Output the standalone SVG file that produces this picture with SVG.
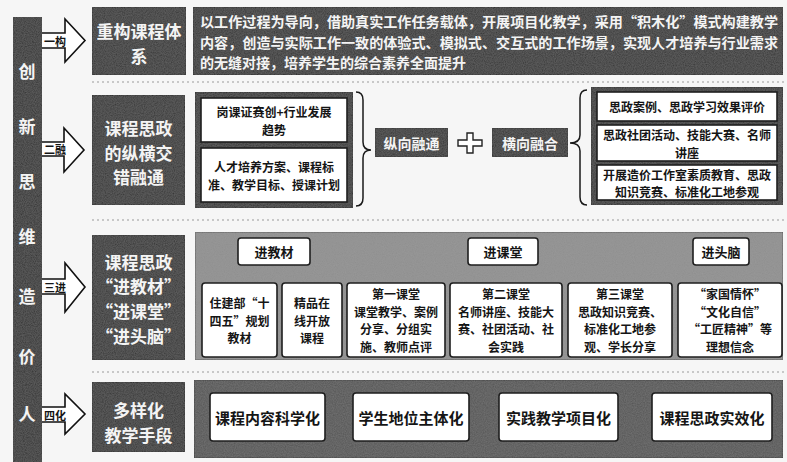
<svg xmlns="http://www.w3.org/2000/svg" width="787" height="462" viewBox="0 0 787 462">
<defs>
<style>
text{font-family:"Noto Sans CJK SC","Noto Sans CJK TC",sans-serif;font-weight:700;dominant-baseline:central;text-anchor:middle}
text.ls{text-anchor:start}
.dark{fill:#363636;stroke:#1a1a1a;stroke-width:1}
.wbox{fill:#ffffff;stroke:#1e1e1e;stroke-width:1.6}
.wt{fill:#f4f4f4}
.bt{fill:#151515}
.arrow{fill:#ffffff;stroke:#111;stroke-width:1.6;stroke-linejoin:miter}
.sep{stroke:#9a9a9a;stroke-width:1;stroke-dasharray:2 3}
.brace{fill:none;stroke:#1a1a1a;stroke-width:1.5}
.cline{fill:none;stroke:#222;stroke-width:3}
.cin{fill:none;stroke:#e8e8e8;stroke-width:1}
</style>
<filter id="grain" x="0" y="0" width="100%" height="100%">
<feTurbulence type="fractalNoise" baseFrequency="0.9" numOctaves="2" seed="3" result="n"/>
<feColorMatrix in="n" type="matrix" values="0 0 0 0 0.55  0 0 0 0 0.55  0 0 0 0 0.55  0 0 0 0.18 0" result="g"/>
<feComposite in="g" in2="SourceGraphic" operator="in" result="gi"/>
<feMerge><feMergeNode in="SourceGraphic"/><feMergeNode in="gi"/></feMerge>
</filter>
</defs>
<rect x="0" y="0" width="787" height="462" fill="#f6f6f6"/>

<!-- separators -->
<g id="separators">
<line class="sep" x1="92" y1="82" x2="787" y2="82"/>
<line class="sep" x1="92" y1="220" x2="787" y2="220"/>
<line class="sep" x1="92" y1="372" x2="787" y2="372"/>
</g>

<!-- left bar -->
<g id="bar">
<rect x="13" y="17" width="29" height="450" fill="#333333" filter="url(#grain)"/>
<g class="wt" font-size="17">
<text x="27" y="70">创</text>
<text x="27" y="125">新</text>
<text x="27" y="180">思</text>
<text x="27" y="235">维</text>
<text x="27" y="295">造</text>
<text x="27" y="355">价</text>
<text x="27" y="413">人</text>
</g>
</g>

<!-- connectors -->
<g id="connectors">
<g id="arrow1">
<path class="arrow" d="M42,33 H65 V19 L85,40.5 L65,62 V48 H42"/>
<text class="bt" x="55" y="40.5" font-size="11" font-weight="400">一构</text>
</g>
<g id="arrow2">
<path class="arrow" d="M42,142 H64 V128 L84,150 L64,172 V156 H42"/>
<text class="bt" x="55" y="149" font-size="11" font-weight="400">二融</text>
</g>
<g id="arrow3">
<path class="arrow" d="M42,279 H65 V263 L85,287 L65,312 V294 H42"/>
<text class="bt" x="55" y="286.5" font-size="11" font-weight="400">三进</text>
</g>
<g id="arrow4">
<path class="arrow" d="M42,407 H65 V394 L85,414 L65,434 V422 H42"/>
<text class="bt" x="55" y="414.5" font-size="11" font-weight="400">四化</text>
</g>
<g id="tree">
<path class="cline" d="M274,265 V275 M240,283 V275 H312 V283"/>
<path class="cin" d="M274,265 V275 M240,283 V275 H312 V283"/>
<path class="cline" d="M506,265 V283 M396,283 V275 H620 V283"/>
<path class="cin" d="M506,265 V283 M396,283 V275 H620 V283"/>
<path class="cline" d="M727,265 V283"/>
<path class="cin" d="M727,265 V283"/>
</g>
<path class="brace" d="M356,92 Q363,92 363,100 V142 Q363,150 371,150 Q363,150 363,158 V198 Q363,206 356,206"/>
<path class="brace" d="M587,90 Q580,90 580,98 V135 Q580,143 570,143 Q580,143 580,151 V197 Q580,205 587,205"/>
<path d="M467,133 H473 V140 H482 V146 H473 V153 H467 V146 H458 V140 H467 Z" fill="#fff" stroke="#222" stroke-width="1.4"/>
</g>

<!-- row 1 -->
<g id="row1-title">
<rect class="dark" x="92" y="7" width="94" height="68" filter="url(#grain)"/>
<g class="wt" font-size="17"><text x="139" y="30.5">重构课程体</text><text x="139" y="55.5">系</text></g>
</g>
<g id="row1-desc">
<rect class="dark" x="193" y="7" width="590" height="68" filter="url(#grain)"/>
<g class="wt" font-size="14">
<text class="ls" x="200" y="20.5" textLength="578" lengthAdjust="spacingAndGlyphs">以工作过程为导向，借助真实工作任务载体，开展项目化教学，采用“积木化”模式构建教学</text>
<text class="ls" x="200" y="41.5" textLength="578" lengthAdjust="spacingAndGlyphs">内容，创造与实际工作一致的体验式、模拟式、交互式的工作场景，实现人才培养与行业需求</text>
<text class="ls" x="200" y="62">的无缝对接，培养学生的综合素养全面提升</text>
</g>
</g>

<!-- row 2 -->
<g id="row2-title">
<rect class="dark" x="92" y="95" width="93" height="110" filter="url(#grain)"/>
<g class="wt" font-size="17"><text x="138.5" y="127.5">课程思政</text><text x="138.5" y="152">的纵横交</text><text x="138.5" y="176.5">错融通</text></g>
</g>
<g id="row2-left">
<rect x="195" y="92" width="158" height="116" fill="#363636" stroke="#1a1a1a" filter="url(#grain)"/>
<rect class="wbox" x="201" y="98" width="146" height="44"/>
<rect class="wbox" x="201" y="148" width="146" height="54"/>
<g class="bt" font-size="12">
<text x="274" y="111.5">岗课证赛创+行业发展</text><text x="274" y="129">趋势</text>
<text x="274" y="166">人才培养方案、课程标</text><text x="274" y="184">准、教学目标、授课计划</text>
</g>
</g>
<g id="row2-vertical">
<rect class="dark" x="375" y="128" width="73" height="29" filter="url(#grain)"/>
<text class="wt" x="411.5" y="142.5" font-size="14">纵向融通</text>
</g>
<g id="row2-horizontal">
<rect class="dark" x="492" y="128" width="76" height="29" filter="url(#grain)"/>
<text class="wt" x="530" y="142.5" font-size="14">横向融合</text>
</g>
<g id="row2-right">
<rect x="591" y="87" width="192" height="118" fill="#363636" stroke="#1a1a1a" filter="url(#grain)"/>
<rect class="wbox" x="597" y="92" width="180" height="29"/>
<rect class="wbox" x="597" y="125" width="180" height="36"/>
<rect class="wbox" x="597" y="165" width="180" height="35"/>
<g class="bt" font-size="12">
<text x="687" y="106.5">思政案例、思政学习效果评价</text>
<text x="687" y="134.5">思政社团活动、技能大赛、名师</text><text x="687" y="152">讲座</text>
<text x="687" y="174">开展造价工作室素质教育、思政</text><text x="687" y="191.5">知识竞赛、标准化工地参观</text>
</g>
</g>

<!-- row 3 -->
<g id="row3-title">
<rect class="dark" x="92" y="235" width="93" height="125" filter="url(#grain)"/>
<g class="wt" font-size="17"><text x="138.5" y="261">课程思政</text><text x="138.5" y="285.7">“进教材”</text><text x="138.5" y="310.4">“进课堂”</text><text x="138.5" y="335">“进头脑”</text></g>
</g>
<rect id="row3-panel" x="195" y="232" width="588" height="128" fill="#8e8e8e" stroke="#555" filter="url(#grain)"/>
<g class="bt" font-size="13">
<g id="h-jiaocai"><rect class="wbox" x="238" y="238" width="72" height="27" rx="3"/><text x="274" y="251.5">进教材</text></g>
<g id="h-ketang"><rect class="wbox" x="468" y="238" width="70" height="27" rx="3"/><text x="503" y="251.5">进课堂</text></g>
<g id="h-tounao"><rect class="wbox" x="693" y="238" width="56" height="27" rx="3"/><text x="721" y="251.5">进头脑</text></g>
</g>
<g class="bt" font-size="12">
<g id="b1"><rect class="wbox" x="202" y="283" width="75" height="74" rx="3"/><text x="239.5" y="302.5">住建部“十</text><text x="239.5" y="320">四五”规划</text><text x="239.5" y="337.5">教材</text></g>
<g id="b2"><rect class="wbox" x="282" y="283" width="60" height="74" rx="3"/><text x="312" y="302.5">精品在</text><text x="312" y="320">线开放</text><text x="312" y="337.5">课程</text></g>
<g id="b3"><rect class="wbox" x="347" y="283" width="98" height="74" rx="3"/><text x="396" y="293.75">第一课堂</text><text x="396" y="311.25">课堂教学、案例</text><text x="396" y="328.75">分享、分组实</text><text x="396" y="346.25">施、教师点评</text></g>
<g id="b4"><rect class="wbox" x="450" y="283" width="112" height="74" rx="3"/><text x="506" y="293.75">第二课堂</text><text x="506" y="311.25">名师讲座、技能大</text><text x="506" y="328.75">赛、社团活动、社</text><text x="506" y="346.25">会实践</text></g>
<g id="b5"><rect class="wbox" x="568" y="283" width="104" height="74" rx="3"/><text x="620" y="293.75">第三课堂</text><text x="620" y="311.25">思政知识竞赛、</text><text x="620" y="328.75">标准化工地参</text><text x="620" y="346.25">观、学长分享</text></g>
<g id="b6"><rect class="wbox" x="678" y="283" width="104" height="74" rx="3"/><text x="730" y="293.75">“家国情怀”</text><text x="730" y="311.25">“文化自信”</text><text x="730" y="328.75">“工匠精神”等</text><text x="730" y="346.25">理想信念</text></g>
</g>

<!-- row 4 -->
<g id="row4-title">
<rect class="dark" x="92" y="382" width="93" height="70" filter="url(#grain)"/>
<g class="wt" font-size="17"><text x="138.5" y="409">多样化</text><text x="138.5" y="434">教学手段</text></g>
</g>
<rect id="row4-panel" x="194" y="380" width="589" height="78" fill="#555555" stroke="#333" filter="url(#grain)"/>
<g class="bt" font-size="15">
<g id="m1"><rect class="wbox" x="210" y="393" width="115" height="48" rx="3"/><text x="267.5" y="417">课程内容科学化</text></g>
<g id="m2"><rect class="wbox" x="353" y="393" width="116" height="48" rx="3"/><text x="411" y="417">学生地位主体化</text></g>
<g id="m3"><rect class="wbox" x="499" y="393" width="119" height="48" rx="3"/><text x="558.5" y="417">实践教学项目化</text></g>
<g id="m4"><rect class="wbox" x="652" y="393" width="120" height="48" rx="3"/><text x="712" y="417">课程思政实效化</text></g>
</g>
</svg>
